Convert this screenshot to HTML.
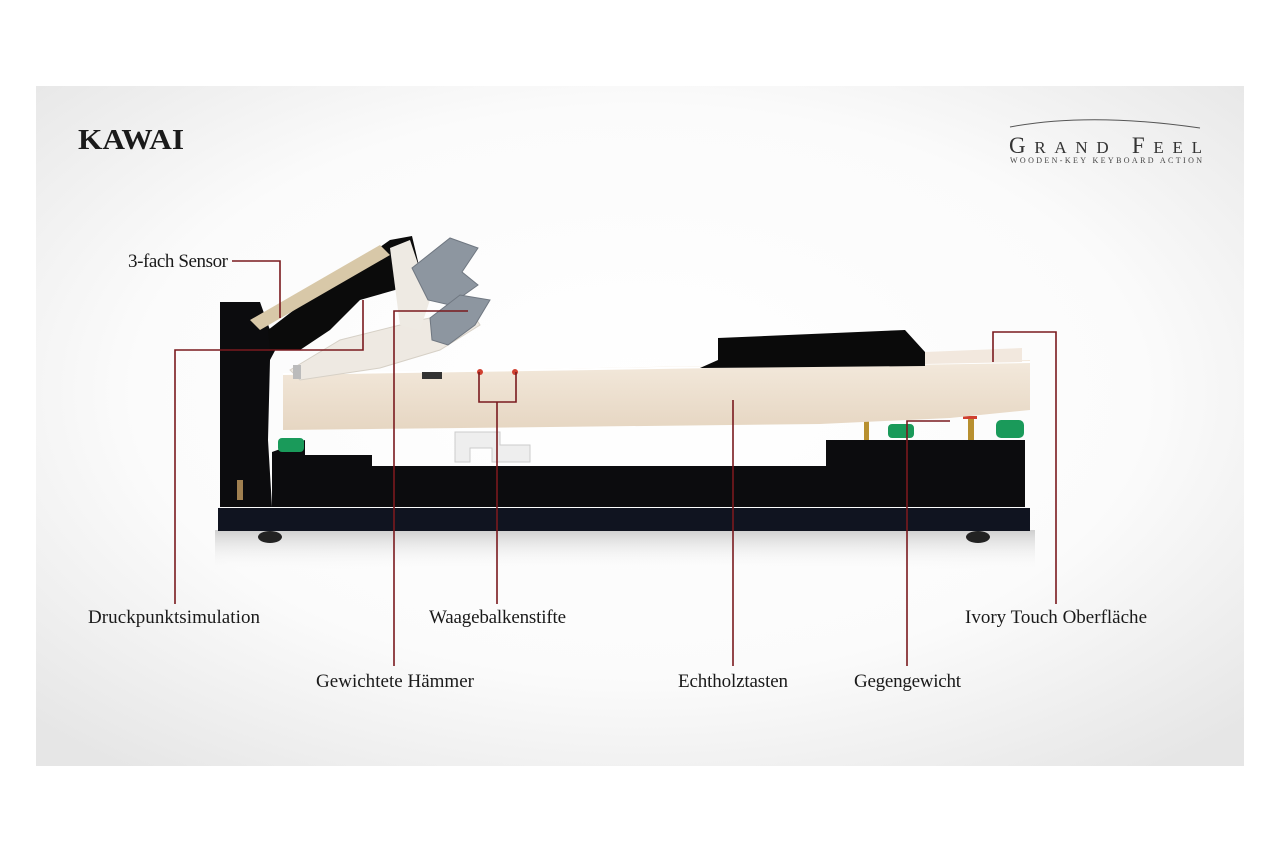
<!DOCTYPE html>
<html><head><meta charset="utf-8"><style>
html,body{margin:0;padding:0;background:#fff;}
svg{display:block}
text{font-family:"Liberation Serif",serif;}
</style></head><body>
<svg width="1280" height="853" viewBox="0 0 1280 853" xmlns="http://www.w3.org/2000/svg">
<defs>
<radialGradient id="bg" cx="50%" cy="45%" r="70%">
<stop offset="0" stop-color="#ffffff"/><stop offset="0.6" stop-color="#fbfbfb"/><stop offset="1" stop-color="#e6e6e6"/>
</radialGradient>
<linearGradient id="wood" x1="0" y1="0" x2="0" y2="1">
<stop offset="0" stop-color="#f3e9dc"/><stop offset="1" stop-color="#e6d6c2"/>
</linearGradient>
<linearGradient id="sh" x1="0" y1="0" x2="0" y2="1">
<stop offset="0" stop-color="#cfcfcf"/><stop offset="1" stop-color="#fafafa" stop-opacity="0"/>
</linearGradient>
</defs>
<rect x="36" y="86" width="1208" height="680" fill="url(#bg)"/>
<text x="78" y="149" font-size="29" font-weight="bold" fill="#1a1a1a" textLength="106" lengthAdjust="spacingAndGlyphs">KAWAI</text>
<path d="M1010 127 Q1090 112 1200 128" stroke="#555" stroke-width="1" fill="none"/>
<text x="1009" y="153" font-size="23" fill="#333" textLength="193" lengthAdjust="spacing">G<tspan font-size="17">RAND</tspan> F<tspan font-size="17">EEL</tspan></text>
<text x="1010" y="163" font-size="8" fill="#444" textLength="192" lengthAdjust="spacing">WOODEN-KEY   KEYBOARD   ACTION</text>

<rect x="215" y="530" width="820" height="40" fill="url(#sh)"/>
<rect x="218" y="508" width="812" height="23" fill="#101420"/>
<ellipse cx="270" cy="537" rx="12" ry="6" fill="#222"/>
<ellipse cx="978" cy="537" rx="12" ry="6" fill="#222"/>
<path d="M272 452 L305 440 L305 455 L372 455 L372 466 L826 466 L826 440 L1025 440 L1025 507 L272 507 Z" fill="#0c0c0e"/>
<path d="M220 302 L260 302 L270 330 L278 345 L270 360 L268 440 L272 507 L220 507 Z" fill="#0c0c0e"/>
<rect x="237" y="480" width="6" height="20" fill="#a08050"/>
<rect x="278" y="438" width="26" height="14" rx="4" fill="#1a9a5a"/>
<rect x="888" y="424" width="26" height="14" rx="4" fill="#1a9a5a"/>
<rect x="996" y="420" width="28" height="18" rx="5" fill="#1a9a5a"/>
<rect x="864" y="418" width="5" height="22" fill="#b89030"/>
<rect x="968" y="418" width="6" height="22" fill="#b89030"/>
<rect x="963" y="416" width="14" height="3" fill="#d04030"/>
<path d="M455 432 L500 432 L500 445 L530 445 L530 462 L492 462 L492 448 L470 448 L470 462 L455 462 Z" fill="#eee" stroke="#ccc"/>
<path d="M283 374 L700 366 L1030 360 L1030 410 L950 418 L820 424 L283 430 Z" fill="url(#wood)"/>
<path d="M283 374 L1030 362" stroke="#fff" stroke-width="2"/>
<path d="M925 352 L1022 348 L1022 362 L925 364 Z" fill="#f2e8de"/>
<path d="M718 338 L905 330 L925 352 L925 366 L700 368 L718 360 Z" fill="#0a0a0a"/>
<rect x="422" y="372" width="20" height="7" fill="#333"/>
<circle cx="480" cy="372" r="3" fill="#d04030"/><circle cx="515" cy="372" r="3" fill="#d04030"/>
<path d="M290 370 L340 340 L420 320 L470 310 L480 325 L440 350 L380 368 L300 380 Z" fill="#eee9e2" stroke="#d6d0c6"/>
<path d="M268 330 L320 290 L390 240 L412 236 L420 270 L395 290 L360 300 L330 330 L300 350 L270 350 Z" fill="#0b0b0b"/>
<path d="M250 320 L380 245 L390 255 L260 330 Z" fill="#d8c8a8"/>
<path d="M390 248 L410 240 L430 300 L420 330 L400 325 Z" fill="#eeeae3"/>
<path d="M412 268 L450 238 L478 248 L462 272 L478 285 L450 305 L428 300 Z" fill="#8d96a0" stroke="#6f7781"/>
<path d="M430 318 L460 295 L490 300 L475 325 L448 345 L432 340 Z" fill="#8d96a0" stroke="#6f7781"/>
<rect x="293" y="365" width="8" height="14" fill="#bbb"/>

<g stroke="#7a1a1e" stroke-width="1.6" fill="none">
<path d="M232 261 H280 V318"/>
<path d="M175 604 V350 H363 V300"/>
<path d="M394 666 V311 H468"/>
<path d="M497 604 V402 M479 372 V402 H516 V372"/>
<path d="M733 666 V400"/>
<path d="M907 666 V421 H950"/>
<path d="M1056 604 V332 H993 V362"/>
</g>
<g font-size="19" fill="#1a1a1a" lengthAdjust="spacingAndGlyphs">
<text x="128" y="267" textLength="100">3-fach Sensor</text>
<text x="88" y="623" textLength="172">Druckpunktsimulation</text>
<text x="429" y="623" textLength="137">Waagebalkenstifte</text>
<text x="965" y="623" textLength="182">Ivory Touch Oberfläche</text>
<text x="316" y="687" textLength="158">Gewichtete Hämmer</text>
<text x="678" y="687" textLength="110">Echtholztasten</text>
<text x="854" y="687" textLength="107">Gegengewicht</text>
</g>
</svg>
</body></html>
